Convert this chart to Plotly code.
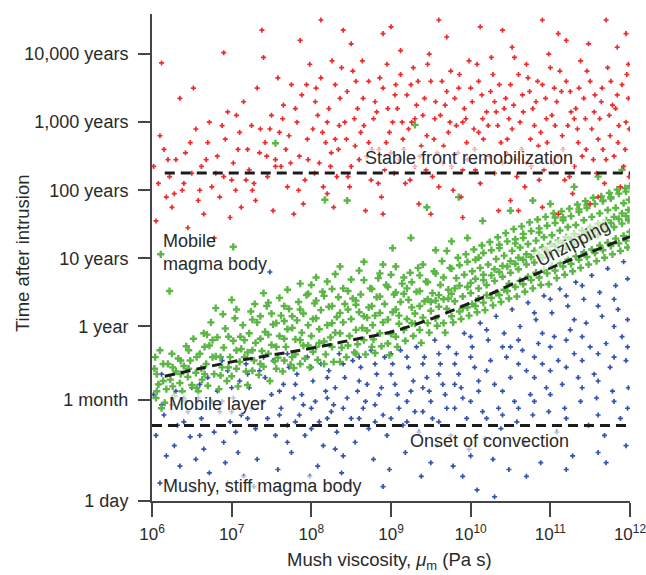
import plotly.graph_objects as go

# ---------------- data (log10 viscosity [Pa s], log10 time [years]) ----------------
red_pts = [
 (6.02,2.35),(6.05,1.55),(6.08,2.10),(6.12,3.87),(6.15,2.60),(6.18,1.90),
 (6.22,2.20),(6.25,1.75),(6.30,2.45),(6.35,3.35),(6.38,2.00),
 (6.42,2.55),(6.45,1.45),(6.50,2.25),(6.55,2.90),(6.58,1.85),(6.52,3.50),
 (6.62,2.35),(6.65,1.65),(6.70,2.70),(6.75,2.05),(6.72,3.00),(6.78,1.30),
 (6.82,2.50),(6.85,1.90),(6.90,2.20),(6.95,3.15),(6.92,2.75),(6.98,1.60),(6.90,4.02),
 (7.02,2.40),(7.05,2.00),(7.10,2.85),(7.12,1.75),(7.15,3.30),(7.18,2.15),(7.08,2.60),
 (7.22,2.30),(7.25,2.95),(7.30,1.85),(7.32,3.50),(7.35,2.55),(7.38,4.35),(7.28,2.10),
 (7.42,2.70),(7.45,2.20),(7.50,3.10),(7.52,1.70),(7.55,2.45),(7.58,3.65),(7.48,2.90),
 (7.62,2.35),(7.65,3.25),(7.70,2.05),(7.72,2.80),(7.75,3.55),(7.78,1.65),(7.68,2.60),
 (7.82,3.00),(7.85,2.50),(7.88,3.40),(7.92,2.15),(7.95,2.75),(7.98,3.85),(7.90,1.80),(7.86,4.20),
 (8.02,2.90),(8.05,3.30),(8.10,2.40),(8.12,3.65),(8.15,2.05),(8.18,2.70),(8.08,3.10),(8.12,4.50),
 (8.22,3.20),(8.25,2.55),(8.30,3.55),(8.32,2.20),(8.35,2.95),(8.38,3.80),(8.28,1.75),(8.30,2.75),
 (8.42,3.00),(8.45,3.45),(8.50,2.35),(8.52,3.75),(8.55,2.65),(8.58,3.20),(8.48,2.05),(8.50,4.15),
 (8.62,2.85),(8.65,3.35),(8.70,2.50),(8.72,3.60),(8.75,2.15),(8.78,3.05),(8.68,1.70),(8.72,2.70),
 (8.82,3.15),(8.85,2.60),(8.90,3.50),(8.92,2.30),(8.95,3.85),(8.98,2.85),(8.88,1.90),(8.90,4.30),
 (9.02,3.00),(9.05,3.40),(9.10,2.45),(9.12,3.70),(9.15,2.75),(9.18,2.10),(9.08,3.20),(9.12,4.05),
 (9.22,2.90),(9.25,3.55),(9.30,2.35),(9.32,3.25),(9.35,1.80),(9.38,2.65),(9.28,3.80),(9.30,3.05),
 (9.42,3.35),(9.45,2.80),(9.50,3.60),(9.52,2.20),(9.55,3.05),(9.58,2.55),(9.48,4.00),(9.50,1.65),
 (9.62,3.10),(9.65,2.40),(9.70,3.45),(9.72,2.85),(9.75,3.75),(9.78,2.00),(9.68,3.25),(9.70,4.25),
 (9.82,2.95),(9.85,3.50),(9.90,2.30),(9.92,3.20),(9.95,2.70),(9.98,3.90),(9.88,1.90),(9.90,3.00),
 (10.02,3.30),(10.05,2.60),(10.10,3.60),(10.12,2.10),(10.15,3.05),(10.18,2.45),(10.08,3.85),(10.10,2.85),(10.12,4.40),
 (10.22,2.95),(10.25,3.45),(10.30,2.25),(10.32,3.15),(10.35,1.70),(10.38,2.70),(10.28,3.70),(10.30,3.30),
 (10.42,3.20),(10.45,2.55),(10.50,3.55),(10.52,2.90),(10.55,3.95),(10.58,2.20),(10.48,3.05),(10.50,1.85),(10.52,4.10),
 (10.62,3.00),(10.65,3.40),(10.70,2.40),(10.72,3.65),(10.75,2.75),(10.78,3.20),(10.68,2.05),(10.70,3.85),
 (10.82,3.30),(10.85,2.65),(10.90,3.55),(10.92,2.30),(10.95,3.05),(10.98,4.00),(10.88,2.85),(10.90,1.75),
 (11.02,3.10),(11.05,3.50),(11.10,2.50),(11.12,3.75),(11.15,2.80),(11.18,2.15),(11.08,3.30),(11.10,4.30),
 (11.22,2.95),(11.25,3.45),(11.30,2.35),(11.32,3.20),(11.35,2.70),(11.38,3.90),(11.28,1.95),(11.30,3.05),
 (11.42,3.35),(11.45,2.60),(11.50,3.60),(11.52,2.90),(11.55,3.15),(11.58,2.25),(11.48,4.15),(11.50,1.80),
 (11.62,3.05),(11.65,3.50),(11.70,2.45),(11.72,3.80),(11.75,2.80),(11.78,3.25),(11.68,2.10),(11.70,4.50),
 (11.82,3.20),(11.85,2.70),(11.90,3.55),(11.92,2.35),(11.95,3.00),(11.98,3.85),(11.88,2.05),(11.98,3.35),(11.95,4.30),
 (7.55,2.35),(7.60,2.85),(7.64,3.05),(7.74,2.40),(7.80,3.20),(7.84,2.00),(7.94,3.55),(7.96,2.45),
 (8.04,2.25),(8.06,3.50),(8.14,2.85),(8.20,3.00),(8.24,2.35),(8.26,3.90),(8.34,2.60),(8.36,3.35),
 (8.44,2.75),(8.46,2.20),(8.54,3.05),(8.56,3.60),(8.60,2.45),(8.64,3.90),(8.66,2.95),(8.76,2.60),
 (8.80,3.30),(8.84,2.10),(8.86,3.65),(8.94,2.70),(8.96,3.20),(9.00,2.55),(9.04,2.25),(9.06,3.55),
 (9.14,3.00),(9.16,2.60),(9.20,3.40),(9.24,2.15),(9.26,3.00),(9.34,3.60),(9.36,2.50),(9.40,3.10),
 (9.44,2.30),(9.46,3.85),(9.54,2.75),(9.56,3.30),(9.60,2.05),(9.64,3.60),(9.66,2.65),(9.74,3.00),
 (9.76,2.35),(9.80,3.35),(9.84,2.55),(9.86,3.70),(9.94,3.05),(9.96,2.45),(10.00,3.50),(10.04,2.90),
 (10.06,2.30),(10.14,3.40),(10.16,2.75),(10.20,3.15),(10.24,2.50),(10.26,3.95),(10.34,2.95),(10.36,3.55),
 (10.40,2.40),(10.44,3.35),(10.46,2.75),(10.54,3.25),(10.56,2.45),(10.60,3.70),(10.64,2.60),(10.66,3.15),
 (10.74,3.45),(10.76,2.35),(10.80,2.95),(10.84,3.60),(10.86,2.15),(10.94,3.35),(10.96,2.70),(11.00,3.80),
 (11.04,2.40),(11.06,2.95),(11.14,3.45),(11.16,2.60),(11.20,3.60),(11.24,2.20),(11.26,3.15),(11.34,2.90),
 (11.36,3.50),(11.40,2.50),(11.44,3.05),(11.46,3.75),(11.54,2.45),(11.56,3.40),(11.60,2.75),(11.64,3.30),
 (11.66,2.60),(11.74,3.10),(11.76,3.60),(11.80,2.50),(11.84,3.40),(11.86,2.95),(11.94,2.60),(11.96,3.70),
 (11.99,2.90),(11.99,2.20),
 (6.10,2.80),(6.20,2.45),(6.28,1.95),(6.40,2.10),(6.48,2.70),(6.60,2.00),(6.68,2.45),(6.80,2.25),
 (6.88,2.95),(7.00,2.15),(7.06,3.10),(7.20,2.60),(7.26,2.00),(7.36,2.90),(7.44,2.50),
 (8.40,4.35),(9.00,4.40),(9.60,4.50),(10.40,4.35),(11.20,4.20),(11.84,4.10),(7.40,3.95),(10.90,4.50),
 (8.90,1.65),(9.90,1.60),(10.60,1.70),(11.10,1.65),(11.60,1.90),(8.20,1.95),
]

green_pts = [
 (6.03,-0.62),(6.05,-1.05),(6.08,-0.85),(6.10,-0.35),(6.12,-1.20),(6.04,-0.45),(6.11,1.06),
 (6.18,-0.92),(6.20,-0.55),(6.23,-0.78),(6.25,-0.40),(6.22,0.52),(6.16,-1.12),
 (6.28,-1.02),(6.30,-0.66),(6.33,-0.47),(6.35,-0.83),
 (6.38,-0.95),(6.40,-0.58),(6.43,-0.29),(6.45,-0.74),(6.42,-1.10),
 (6.48,-0.50),(6.50,-0.86),(6.52,-0.18),(6.55,-0.68),
 (6.58,-0.95),(6.60,-0.40),(6.62,-0.62),(6.65,-0.10),(6.63,-0.78),
 (6.68,-0.55),(6.70,-0.87),(6.72,-0.28),(6.74,0.06),(6.69,-0.12),
 (6.78,-0.70),(6.80,-0.44),(6.82,-0.16),(6.84,-0.92),(6.80,0.27),
 (6.88,-0.60),(6.90,-0.31),(6.92,-0.03),(6.94,-0.80),(6.89,0.18),
 (6.98,-0.45),(7.00,-0.73),(7.02,-0.21),(7.04,0.12),(7.00,0.39),(7.02,1.17),
 (7.08,-0.88),(7.10,-0.52),(7.12,-0.33),(7.14,0.02),(7.11,-0.15),
 (7.18,-0.66),(7.20,-0.38),(7.22,-0.10),(7.24,0.22),(7.20,-0.86),
 (7.28,-0.50),(7.30,-0.24),(7.32,0.06),(7.34,-0.71),(7.29,0.33),
 (7.38,-0.36),(7.40,-0.59),(7.42,-0.08),(7.44,0.30),(7.40,0.49),
 (7.48,-0.80),(7.50,-0.27),(7.52,0.03),(7.54,-0.51),(7.50,0.19),(7.46,-0.12),
 (7.58,-0.46),(7.60,-0.14),(7.62,0.16),(7.64,-0.66),(7.60,0.42),(7.55,2.69),
 (7.68,-0.30),(7.70,-0.04),(7.72,0.26),(7.74,-0.56),(7.70,0.54),(7.66,0.08),
 (7.78,-0.61),(7.80,-0.19),(7.82,0.09),(7.84,0.36),(7.80,-0.41),
 (7.88,-0.09),(7.90,0.19),(7.92,-0.47),(7.94,0.46),(7.90,-0.28),(7.86,0.63),
 (7.98,-0.60),(8.00,-0.14),(8.02,0.11),(8.04,0.34),(8.00,0.61),(8.02,-0.37),
 (8.08,-0.49),(8.10,-0.04),(8.12,0.24),(8.14,0.51),(8.10,-0.24),(8.06,0.72),
 (8.18,-0.41),(8.20,0.02),(8.22,0.29),(8.24,-0.16),(8.20,0.66),(8.17,1.86),
 (8.28,-0.52),(8.30,-0.09),(8.32,0.14),(8.34,0.43),(8.30,0.77),(8.26,0.30),
 (8.38,-0.31),(8.40,0.06),(8.42,0.33),(8.44,-0.45),(8.40,0.56),(8.36,0.88),
 (8.48,-0.14),(8.50,0.11),(8.52,0.41),(8.54,-0.38),(8.50,0.69),(8.45,1.85),
 (8.58,-0.26),(8.60,0.21),(8.62,0.47),(8.64,-0.02),(8.60,0.82),(8.56,0.32),
 (8.68,-0.41),(8.70,-0.06),(8.72,0.28),(8.74,0.56),(8.70,0.13),(8.66,0.95),
 (8.78,-0.19),(8.80,0.16),(8.82,0.43),(8.84,0.71),(8.80,-0.39),(8.77,0.02),
 (8.88,-0.29),(8.90,0.06),(8.92,0.33),(8.94,0.61),(8.90,0.91),(8.86,0.44),
 (8.98,-0.42),(9.00,-0.11),(9.02,0.21),(9.04,0.47),(9.00,0.76),(9.02,1.15),
 (9.08,-0.30),(9.10,0.04),(9.12,0.36),(9.14,0.63),(9.10,0.16),(9.06,0.88),
 (9.18,-0.21),(9.20,0.11),(9.22,0.39),(9.24,0.79),(9.20,0.56),(9.25,1.30),
 (9.28,-0.14),(9.30,0.19),(9.32,0.51),(9.34,0.86),(9.30,0.04),(9.30,2.96),
 (9.38,-0.24),(9.40,0.13),(9.42,0.37),(9.44,0.66),(9.40,0.91),(9.36,0.52),
 (9.48,-0.09),(9.50,0.23),(9.52,0.49),(9.54,0.81),(9.50,0.36),(9.45,1.75),
 (9.58,0.01),(9.60,0.29),(9.62,0.61),(9.64,0.96),(9.60,0.46),(9.56,1.12),
 (9.68,-0.09),(9.70,0.26),(9.72,0.54),(9.74,0.86),(9.70,1.11),(9.72,0.41),
 (9.78,0.06),(9.80,0.37),(9.82,0.71),(9.84,1.01),(9.80,0.56),(9.76,1.25),
 (9.88,0.11),(9.90,0.44),(9.92,0.76),(9.94,1.06),(9.90,0.27),(9.85,1.90),
 (9.98,0.16),(10.00,0.49),(10.02,0.81),(10.04,1.13),(10.00,0.64),(10.02,0.33),(9.96,1.30),
 (10.08,0.21),(10.10,0.56),(10.12,0.86),(10.14,1.19),(10.10,0.41),(10.10,1.01),
 (10.18,0.24),(10.20,0.61),(10.22,0.91),(10.24,1.24),(10.20,0.46),(10.15,1.55),(10.16,0.76),
 (10.28,0.31),(10.30,0.67),(10.32,0.99),(10.34,1.31),(10.30,0.84),(10.32,0.49),
 (10.38,0.36),(10.40,0.73),(10.42,1.04),(10.44,1.37),(10.40,0.89),(10.42,0.54),(10.36,1.20),
 (10.48,0.41),(10.50,0.79),(10.52,1.11),(10.54,1.43),(10.50,0.96),(10.48,0.63),(10.50,1.70),
 (10.58,0.44),(10.60,0.84),(10.62,1.16),(10.64,1.47),(10.60,1.01),(10.62,0.67),(10.56,1.28),
 (10.68,0.51),(10.70,0.91),(10.72,1.21),(10.74,1.53),(10.70,1.06),(10.72,0.73),(10.66,1.36),
 (10.78,0.56),(10.80,0.94),(10.82,1.26),(10.84,1.57),(10.80,1.11),(10.82,0.79),(10.78,1.85),
 (10.88,0.61),(10.90,1.01),(10.92,1.31),(10.94,1.61),(10.90,1.16),(10.92,0.83),(10.86,1.44),
 (10.98,0.62),(11.00,1.06),(11.02,1.34),(11.04,1.66),(11.00,1.21),(11.02,0.89),(11.00,1.80),
 (11.08,0.71),(11.10,1.11),(11.12,1.41),(11.14,1.69),(11.10,1.26),(11.12,0.93),(11.06,1.52),
 (11.18,0.76),(11.20,1.14),(11.22,1.46),(11.24,1.73),(11.20,1.31),(11.22,0.99),(11.16,1.60),
 (11.28,0.81),(11.30,1.21),(11.32,1.49),(11.34,1.79),(11.30,1.36),(11.32,1.03),(11.30,2.05),
 (11.38,0.86),(11.40,1.24),(11.42,1.56),(11.44,1.84),(11.40,1.41),(11.42,1.09),(11.36,1.68),
 (11.48,0.91),(11.50,1.31),(11.52,1.61),(11.54,1.89),(11.50,1.46),(11.52,1.13),(11.46,1.74),
 (11.58,0.96),(11.60,1.34),(11.62,1.66),(11.64,1.91),(11.60,1.51),(11.62,1.19),(11.60,2.20),
 (11.68,1.01),(11.70,1.41),(11.72,1.71),(11.74,1.96),(11.70,1.56),(11.72,1.23),(11.66,1.84),
 (11.78,1.06),(11.80,1.46),(11.82,1.74),(11.84,2.01),(11.80,1.61),(11.82,1.29),(11.76,1.88),
 (11.88,1.11),(11.90,1.51),(11.92,1.81),(11.94,2.03),(11.90,1.66),(11.92,1.33),(11.90,2.30),
 (11.97,1.16),(11.98,1.56),(11.99,1.86),(12.00,2.06),(11.98,1.71),(12.00,1.39),
 (6.06,-0.70),(6.06,-0.95),(6.14,-0.55),(6.14,-0.80),(6.26,-0.60),(6.26,-0.88),(6.36,-0.50),(6.36,-0.70),
 (6.46,-0.62),(6.46,-0.35),(6.56,-0.45),(6.56,-0.90),(6.66,-0.70),(6.66,-0.30),(6.76,-0.45),(6.76,-0.20),
 (6.86,-0.72),(6.86,-0.45),(6.96,-0.60),(6.96,-0.15),(7.06,-0.35),(7.06,-0.62),(7.06,0.25),
 (7.16,-0.45),(7.16,-0.20),(7.26,-0.65),(7.26,-0.35),(7.26,0.10),(7.36,-0.55),(7.36,-0.18),(7.36,0.15),
 (7.46,-0.40),(7.46,0.35),(7.56,-0.30),(7.56,0.05),(7.56,-0.62),(7.66,-0.50),(7.66,-0.18),(7.66,0.30),
 (7.76,-0.45),(7.76,0.15),(7.76,-0.02),(7.86,-0.55),(7.86,-0.20),(7.86,0.25),(7.96,-0.28),(7.96,0.02),(7.96,0.48),
 (8.06,-0.30),(8.06,0.12),(8.06,0.38),(8.16,-0.55),(8.16,-0.22),(8.16,0.45),(8.26,-0.30),(8.26,0.05),(8.26,0.55),
 (8.36,-0.10),(8.36,0.20),(8.36,-0.52),(8.46,-0.28),(8.46,0.25),(8.46,0.52),(8.56,-0.05),(8.56,0.38),(8.56,-0.40),
 (8.66,-0.20),(8.66,0.15),(8.66,0.68),(8.76,-0.30),(8.76,0.30),(8.76,0.55),(8.86,-0.10),(8.86,0.20),(8.86,0.78),
 (8.96,-0.25),(8.96,0.10),(8.96,0.58),(9.06,-0.15),(9.06,0.25),(9.06,0.50),(9.16,-0.05),(9.16,0.48),(9.16,0.72),
 (9.26,0.05),(9.26,0.28),(9.26,0.65),(9.36,-0.05),(9.36,0.30),(9.36,0.75),(9.46,0.05),(9.46,0.40),(9.46,0.65),
 (9.56,0.12),(9.56,0.38),(9.56,0.78),(9.66,0.05),(9.66,0.40),(9.66,0.72),(9.76,0.15),(9.76,0.48),(9.76,0.85),
 (9.86,0.22),(9.86,0.60),(9.86,0.90),(9.96,0.28),(9.96,0.58),(9.96,0.95),(10.06,0.30),(10.06,0.70),(10.06,0.98),
 (10.16,0.35),(10.16,0.68),(10.16,1.08),(10.26,0.42),(10.26,0.75),(10.26,1.12),(10.36,0.46),(10.36,0.80),(10.36,1.15),
 (10.46,0.52),(10.46,0.88),(10.46,1.25),(10.56,0.58),(10.56,0.92),(10.56,1.22),(10.66,0.62),(10.66,0.98),(10.66,1.30),
 (10.76,0.68),(10.76,1.02),(10.76,1.40),(10.86,0.72),(10.86,1.05),(10.86,1.38),(10.96,0.78),(10.96,1.12),(10.96,1.48),
 (11.06,0.82),(11.06,1.18),(11.06,1.60),(11.16,0.88),(11.16,1.22),(11.16,1.56),(11.26,0.92),(11.26,1.28),(11.26,1.62),
 (11.36,0.98),(11.36,1.32),(11.36,1.72),(11.46,1.02),(11.46,1.38),(11.46,1.78),(11.56,1.08),(11.56,1.42),(11.56,1.80),
 (11.66,1.12),(11.66,1.48),(11.66,1.85),(11.76,1.18),(11.76,1.52),(11.76,1.90),(11.86,1.22),(11.86,1.58),(11.86,1.95),
 (11.95,1.26),(11.95,1.62),(11.95,1.98),
]

blue_pts = [
 (6.02,-1.00),(6.05,-1.60),(6.10,-2.30),(6.15,-1.30),(6.08,-0.85),(6.18,-1.90),
 (6.25,-1.15),(6.28,-1.75),(6.30,-0.95),(6.35,-2.05),(6.32,-1.45),
 (6.45,-1.25),(6.48,-1.62),(6.50,-0.90),(6.55,-1.95),(6.52,-2.40),(6.58,-1.05),
 (6.62,-1.35),(6.65,-1.80),(6.70,-0.75),(6.75,-1.10),(6.72,-2.15),(6.78,-1.55),
 (6.82,-0.95),(6.85,-1.25),(6.90,-1.70),(6.95,-0.65),(6.92,-2.00),(6.98,-1.40),
 (7.02,-1.05),(7.05,-1.55),(7.10,-0.80),(7.12,-1.30),(7.15,-2.20),(7.18,-0.55),(7.08,-1.85),
 (7.22,-0.90),(7.25,-1.20),(7.30,-1.50),(7.35,-0.65),(7.32,-1.95),(7.38,-1.10),(7.28,-2.35),
 (7.42,-0.75),(7.45,-1.35),(7.50,-1.00),(7.55,-1.60),(7.52,-0.50),(7.58,-2.10),(7.48,0.80),
 (7.62,-1.20),(7.65,-0.85),(7.70,-1.45),(7.72,-0.60),(7.75,-1.85),(7.78,-1.05),
 (7.82,-0.70),(7.85,-1.30),(7.88,-1.00),(7.92,-1.60),(7.95,-0.45),(7.98,-2.20),(7.90,-1.15),
 (8.02,-0.80),(8.05,-1.10),(8.10,-1.40),(8.12,-0.55),(8.15,-1.75),(8.18,-0.95),(8.08,-2.05),
 (8.22,-0.65),(8.25,-1.25),(8.30,-0.90),(8.32,-1.55),(8.35,-0.40),(8.38,-2.15),(8.28,-1.15),
 (8.42,-0.75),(8.45,-1.05),(8.50,-1.35),(8.52,-0.50),(8.55,-1.70),(8.58,-0.95),(8.48,-2.30),
 (8.62,-0.60),(8.65,-1.20),(8.70,-0.85),(8.72,-1.50),(8.75,-0.35),(8.78,-1.95),(8.68,-1.10),
 (8.82,-0.70),(8.85,-1.00),(8.90,-1.30),(8.92,-0.45),(8.95,-1.60),(8.98,-2.10),(8.88,-0.90),
 (9.02,-0.55),(9.05,-0.85),(9.10,-1.20),(9.12,-0.35),(9.15,-1.45),(9.18,-1.85),(9.08,-1.00),
 (9.22,-0.60),(9.25,-0.95),(9.30,-1.25),(9.32,-0.30),(9.35,-1.55),(9.38,-2.20),(9.28,-0.80),
 (9.42,-0.45),(9.45,-0.75),(9.50,-1.10),(9.52,-1.35),(9.55,-0.20),(9.58,-1.75),(9.48,-0.95),
 (9.62,-0.55),(9.65,-0.85),(9.70,-1.20),(9.72,-0.30),(9.75,-1.60),(9.78,-2.05),(9.68,-1.00),
 (9.82,-0.40),(9.85,-0.70),(9.90,-1.05),(9.92,-0.10),(9.95,-1.35),(9.98,-1.80),(9.88,-0.90),
 (10.02,-0.30),(10.05,-0.60),(10.10,-0.95),(10.12,0.05),(10.15,-1.25),(10.18,-1.65),(10.08,-2.40),(10.10,-0.80),
 (10.22,-0.20),(10.25,-0.50),(10.30,-0.85),(10.32,0.15),(10.35,-1.20),(10.38,-1.50),(10.28,-1.95),
 (10.42,-0.10),(10.45,-0.45),(10.50,-0.75),(10.52,0.25),(10.55,-1.10),(10.58,-1.40),(10.48,-2.10),(10.50,-0.30),
 (10.62,0.00),(10.65,-0.35),(10.70,-0.65),(10.72,0.35),(10.75,-1.00),(10.78,-1.30),(10.68,-1.70),
 (10.82,0.10),(10.85,-0.25),(10.90,-0.55),(10.92,0.45),(10.95,-0.90),(10.98,-1.25),(10.88,-2.00),(10.90,-0.10),
 (11.02,0.20),(11.05,-0.15),(11.10,-0.50),(11.12,0.55),(11.15,-0.85),(11.18,-1.20),(11.08,-1.55),
 (11.22,0.30),(11.25,-0.05),(11.30,-0.40),(11.32,0.65),(11.35,-0.75),(11.38,-1.10),(11.28,-1.90),(11.30,0.10),
 (11.42,0.40),(11.45,0.05),(11.50,-0.30),(11.52,0.75),(11.55,-0.70),(11.58,-1.05),(11.48,-1.45),
 (11.62,0.50),(11.65,0.15),(11.70,-0.25),(11.72,0.85),(11.75,-0.60),(11.78,-0.95),(11.68,-1.60),(11.70,-2.00),
 (11.82,0.60),(11.85,0.25),(11.90,-0.15),(11.92,0.95),(11.95,-0.50),(11.98,-0.90),(11.88,-1.35),(11.95,-1.75),
 (6.12,-1.15),(6.12,-0.70),(6.40,-1.40),(6.40,-1.05),(6.60,-0.85),(6.60,-1.60),(6.88,-1.10),(6.88,-0.50),
 (7.00,-0.90),(7.00,-1.25),(7.20,-1.35),(7.20,-0.70),(7.40,-1.10),(7.40,-0.45),(7.60,-0.95),(7.60,-1.30),
 (7.70,-0.40),(7.70,-1.70),(7.80,-1.40),(7.80,-0.85),(8.00,-1.20),(8.00,-0.60),(8.00,-1.50),
 (8.20,-1.05),(8.20,-0.75),(8.20,-1.35),(8.40,-0.55),(8.40,-1.20),(8.40,-1.90),(8.60,-1.35),(8.60,-0.80),(8.60,-0.45),
 (8.80,-1.15),(8.80,-0.55),(8.80,-1.40),(9.00,-0.70),(9.00,-1.35),(9.00,-0.40),(9.20,-1.10),(9.20,-0.45),(9.20,-1.40),
 (9.40,-0.90),(9.40,-1.25),(9.40,-0.55),(9.60,-0.70),(9.60,-1.40),(9.60,-0.40),(9.80,-0.55),(9.80,-1.20),(9.80,-0.85),
 (10.00,-0.45),(10.00,-1.10),(10.00,-0.15),(10.00,-1.90),(10.20,-0.65),(10.20,-1.35),(10.20,-0.05),
 (10.40,-0.30),(10.40,-0.95),(10.40,-1.30),(10.60,-0.55),(10.60,-0.20),(10.60,-1.20),
 (10.80,-0.45),(10.80,-0.75),(10.80,0.20),(10.80,-1.10),(11.00,-0.30),(11.00,-0.65),(11.00,0.40),(11.00,-1.00),
 (11.20,-0.20),(11.20,-0.60),(11.20,0.45),(11.20,-1.35),(11.40,-0.15),(11.40,-0.50),(11.40,0.60),(11.40,-0.90),
 (11.60,0.30),(11.60,-0.40),(11.60,-0.80),(11.60,-1.30),(11.80,0.40),(11.80,0.00),(11.80,-0.45),(11.80,-1.10),
 (11.97,0.70),(11.97,0.10),(11.97,-0.30),(11.97,-1.20),
 (6.95,-2.30),(7.60,-2.40),(8.30,-1.80),(8.90,-2.35),(9.50,-2.00),(9.90,-2.20),(10.30,-2.50),(10.70,-2.20),
 (11.20,-2.10),(11.60,-1.85),
]

# dashed regime boundaries (log10 years)
unzip_visc_exp = [6.16, 7.0, 7.5, 8.0, 8.5, 9.0, 9.5, 10.0, 10.5, 11.0, 11.5, 12.0]
unzip_time_exp = [-0.73, -0.52, -0.42, -0.32, -0.20, -0.08, 0.11, 0.35, 0.61, 0.86, 1.09, 1.32]
stable_front_visc_exp = [6.16, 12.0]
stable_front_time_exp = [2.254, 2.254]
convection_visc_exp = [6.0, 12.0]
convection_time_exp = [-1.454, -1.454]

y_tick_years = [1/365, 1/12, 1, 10, 100, 1000, 10000]
y_tick_text = ["1 day", "1 month", "1 year", "10 years", "100 years", "1,000 years", "10,000 years"]
x_tick_exp = [6, 7, 8, 9, 10, 11, 12]

FONT = "Liberation Sans, Arial, Helvetica, sans-serif"
TXT = "#2a2a2a"
AX = "#454545"

def unpack(pts):
    return [10 ** p[0] for p in pts], [10 ** p[1] for p in pts]

fig = go.Figure()

bx, by = unpack(blue_pts)
fig.add_trace(go.Scatter(x=bx, y=by, mode="markers",
                         marker=dict(symbol="cross", size=4.2, color="#3552ad"),
                         showlegend=False, hoverinfo="skip"))
gx, gy = unpack(green_pts)
fig.add_trace(go.Scatter(x=gx, y=gy, mode="markers",
                         marker=dict(symbol="cross", size=6, color="#5cb646"),
                         showlegend=False, hoverinfo="skip"))
rx, ry = unpack(red_pts)
fig.add_trace(go.Scatter(x=rx, y=ry, mode="markers",
                         marker=dict(symbol="cross", size=4.2, color="#ee2b2b"),
                         showlegend=False, hoverinfo="skip"))

dash = "10px,6px"
for xs, ys, shape in [(unzip_visc_exp, unzip_time_exp, "spline"),
                      (stable_front_visc_exp, stable_front_time_exp, "linear"),
                      (convection_visc_exp, convection_time_exp, "linear")]:
    fig.add_trace(go.Scatter(x=[10 ** v for v in xs], y=[10 ** v for v in ys], mode="lines",
                             line=dict(color="#1c1c1c", width=3, dash=dash, shape=shape),
                             showlegend=False, hoverinfo="skip"))

ann_bg = "rgba(255,255,255,0.65)"
def ann(text, x, y, xanchor="center", angle=0, bg=ann_bg, align="left"):
    fig.add_annotation(text=text, x=x, y=y, xref="x", yref="y", showarrow=False,
                       xanchor=xanchor, yanchor="middle", textangle=angle, align=align,
                       font=dict(family=FONT, size=18, color=TXT), bgcolor=bg, borderpad=0)

ann("Stable front remobilization", 9.973, 2.478)
ann("Unzipping", 11.284, 1.227, angle=-28)
ann("Mobile<br>magma body", 6.126, 1.083, xanchor="left", bg="rgba(0,0,0,0)")
ann("Mobile layer", 6.20, -1.136, xanchor="left")
ann("Onset of convection", 10.236, -1.679)
ann("Mushy, stiff magma body", 6.126, -2.336, xanchor="left")

# axis titles (placed in paper coordinates)
fig.add_annotation(text="Time after intrusion", xref="paper", yref="paper",
                   x=-0.271, y=0.51, xanchor="center", yanchor="middle", textangle=-90,
                   showarrow=False, font=dict(family=FONT, size=18.5, color=TXT))
fig.add_annotation(text="Mush viscosity, <i>μ</i><sub>m</sub> (Pa s)", xref="paper", yref="paper",
                   x=0.497, y=-0.124, xanchor="center", yanchor="middle",
                   showarrow=False, font=dict(family=FONT, size=18.5, color=TXT))

fig.update_layout(
    width=646, height=575,
    margin=dict(l=152, r=16, t=14, b=74, autoexpand=False),
    paper_bgcolor="white", plot_bgcolor="white",
    font=dict(family=FONT, color=TXT, size=18),
    xaxis=dict(type="log", range=[5.9999, 12.0001], showgrid=False, zeroline=False,
               showline=True, linecolor=AX, linewidth=2, automargin=False,
               ticks="outside", ticklen=14, tickwidth=1.6, tickcolor=AX,
               tickvals=[10 ** e for e in x_tick_exp],
               ticktext=[f"10<sup>{e}</sup>" for e in x_tick_exp],
               tickfont=dict(family=FONT, size=17, color=TXT), ticklabelstandoff=3,
               ticklabeloverflow="allow"),
    yaxis=dict(type="log", range=[-2.5623, 4.588], showgrid=False, zeroline=False,
               showline=True, linecolor=AX, linewidth=2, automargin=False,
               ticks="outside", ticklen=12, tickwidth=1.6, tickcolor=AX,
               tickvals=y_tick_years, ticktext=y_tick_text,
               tickfont=dict(family=FONT, size=18, color=TXT), ticklabelstandoff=6),
)

fig.write_html("out.html")
